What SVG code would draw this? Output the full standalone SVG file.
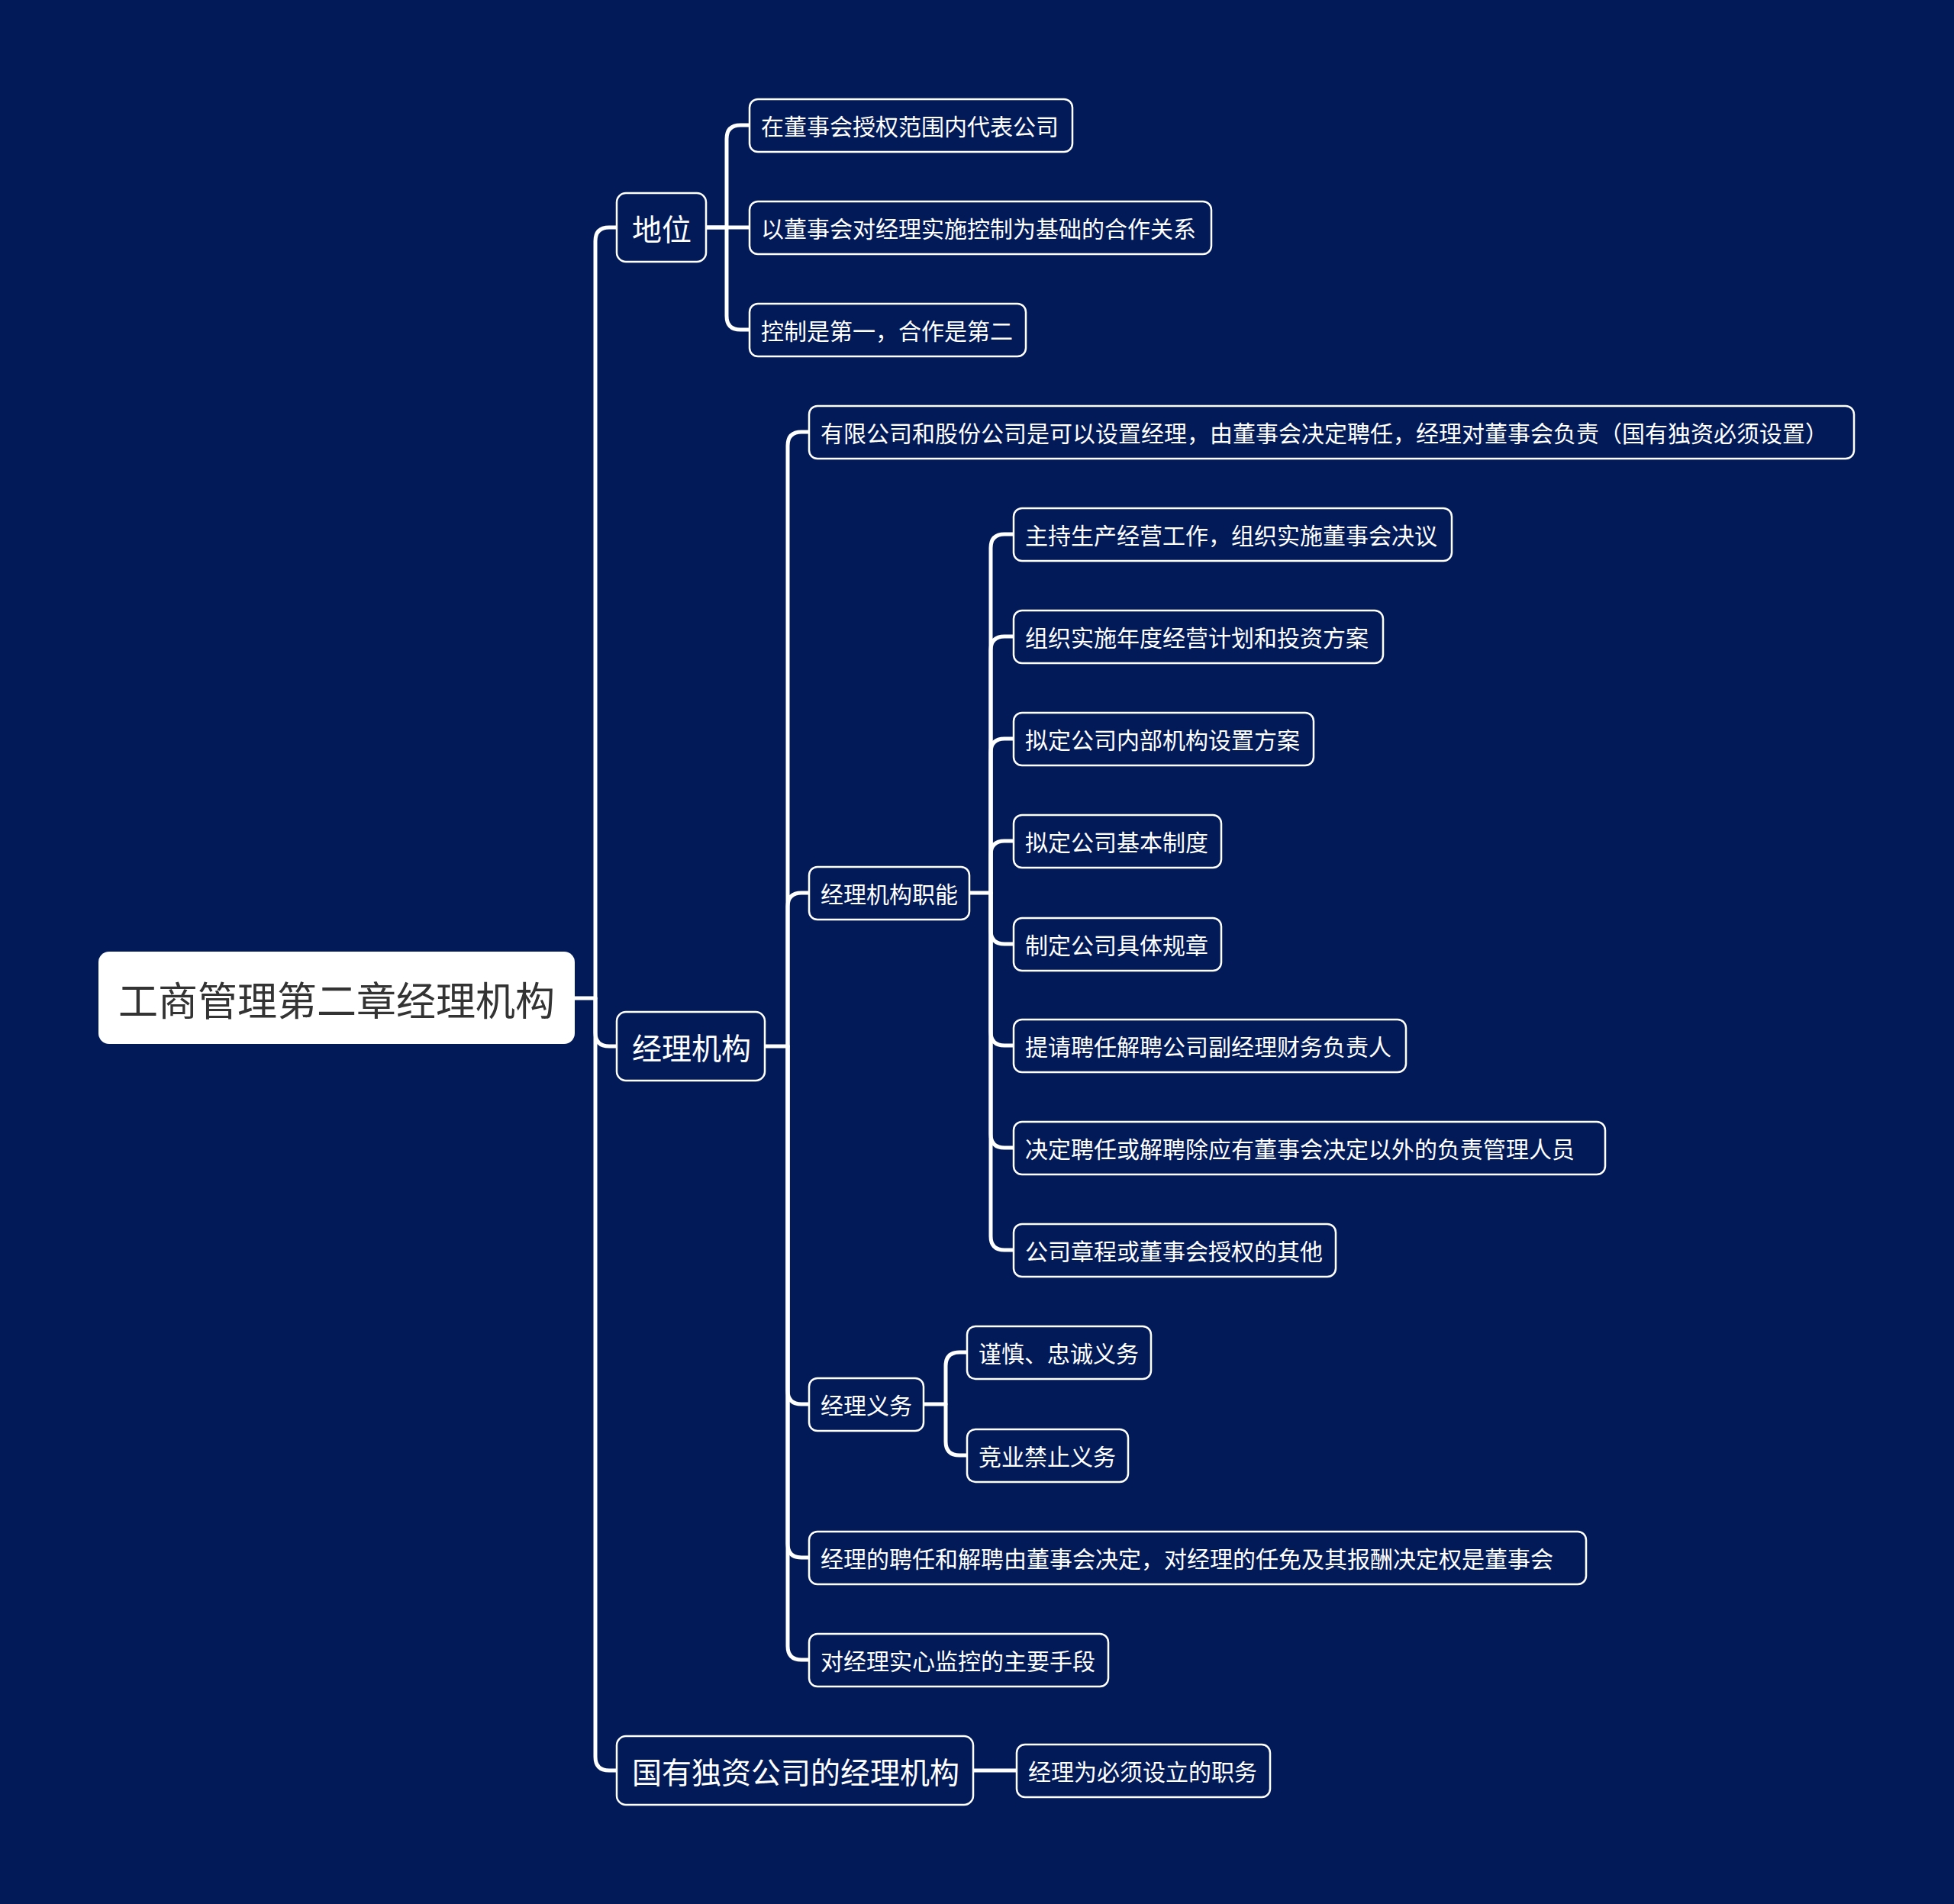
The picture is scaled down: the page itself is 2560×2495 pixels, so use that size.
<svg xmlns="http://www.w3.org/2000/svg" width="2560" height="2495" viewBox="0 0 2560 2495">
<style>
.bg{fill:#021b58}
.box{fill:#021b58;stroke:#ffffff;stroke-width:2.5}
.root{fill:#ffffff}
.t{font-family:"Noto Sans CJK SC","Noto Sans",sans-serif;fill:#ffffff;dominant-baseline:central}
.t0{font-size:52px;fill:#333333;text-anchor:middle}
.t1{font-size:39px}
.t2{font-size:30px}
.c{fill:none;stroke:#ffffff;stroke-width:5;stroke-linecap:round;stroke-linejoin:round}
</style>
<rect class="bg" x="0" y="0" width="2560" height="2495"/>
<g id="connectors">
<path class="c" d="M753,1308 H780 V316 Q780,298 798,298 H808"/>
<path class="c" d="M780,1308 V1353 Q780,1371 798,1371 H808"/>
<path class="c" d="M780,1308 V2302 Q780,2320 798,2320 H808"/>
<path class="c" d="M925,298 H952 V182 Q952,164 970,164 H982"/>
<path class="c" d="M925,298 H982"/>
<path class="c" d="M952,298 V414 Q952,432 970,432 H982"/>
<path class="c" d="M1002,1371 H1032 V584 Q1032,566 1050,566 H1060"/>
<path class="c" d="M1032,1371 V1188 Q1032,1170 1050,1170 H1060"/>
<path class="c" d="M1032,1371 V1822 Q1032,1840 1050,1840 H1060"/>
<path class="c" d="M1032,1371 V2023 Q1032,2041 1050,2041 H1060"/>
<path class="c" d="M1032,1371 V2157 Q1032,2175 1050,2175 H1060"/>
<path class="c" d="M1270,1170 H1298 V718 Q1298,700 1316,700 H1328"/>
<path class="c" d="M1298,1170 V852 Q1298,834 1316,834 H1328"/>
<path class="c" d="M1298,1170 V986 Q1298,968 1316,968 H1328"/>
<path class="c" d="M1298,1170 V1120 Q1298,1102 1316,1102 H1328"/>
<path class="c" d="M1298,1170 V1219 Q1298,1237 1316,1237 H1328"/>
<path class="c" d="M1298,1170 V1352 Q1298,1370 1316,1370 H1328"/>
<path class="c" d="M1298,1170 V1486 Q1298,1504 1316,1504 H1328"/>
<path class="c" d="M1298,1170 V1620 Q1298,1638 1316,1638 H1328"/>
<path class="c" d="M1209,1840 H1239 V1790 Q1239,1772 1257,1772 H1267"/>
<path class="c" d="M1239,1840 V1889 Q1239,1907 1257,1907 H1267"/>
<path class="c" d="M1275,2320 H1332"/>
</g>
<g id="root">
<rect class="root" x="129" y="1247" width="624" height="121" rx="14"/>
<text class="t t0" x="441" y="1308">工商管理第二章经理机构</text>
</g>
<g id="n-diwei">
<rect class="box" x="808" y="253" width="117" height="90" rx="12"/>
<text class="t t1" x="828" y="298">地位</text>
</g>
<g id="n-jljg">
<rect class="box" x="808" y="1326" width="194" height="90" rx="12"/>
<text class="t t1" x="828" y="1371">经理机构</text>
</g>
<g id="n-guoyou">
<rect class="box" x="808" y="2275" width="467" height="90" rx="12"/>
<text class="t t1" x="828" y="2320">国有独资公司的经理机构</text>
</g>
<g id="n-a1">
<rect class="box" x="982" y="130" width="423" height="69" rx="11"/>
<text class="t t2" x="997" y="164">在董事会授权范围内代表公司</text>
</g>
<g id="n-a2">
<rect class="box" x="982" y="264" width="605" height="69" rx="11"/>
<text class="t t2" x="997" y="298">以董事会对经理实施控制为基础的合作关系</text>
</g>
<g id="n-a3">
<rect class="box" x="982" y="398" width="362" height="69" rx="11"/>
<text class="t t2" x="997" y="432">控制是第一，合作是第二</text>
</g>
<g id="n-b1">
<rect class="box" x="1060" y="532" width="1369" height="69" rx="11"/>
<text class="t t2" x="1075" y="566">有限公司和股份公司是可以设置经理，由董事会决定聘任，经理对董事会负责（国有独资必须设置）</text>
</g>
<g id="n-b2">
<rect class="box" x="1060" y="1136" width="210" height="69" rx="11"/>
<text class="t t2" x="1075" y="1170">经理机构职能</text>
</g>
<g id="n-c1">
<rect class="box" x="1328" y="666" width="574" height="69" rx="11"/>
<text class="t t2" x="1343" y="700">主持生产经营工作，组织实施董事会决议</text>
</g>
<g id="n-c2">
<rect class="box" x="1328" y="800" width="484" height="69" rx="11"/>
<text class="t t2" x="1343" y="834">组织实施年度经营计划和投资方案</text>
</g>
<g id="n-c3">
<rect class="box" x="1328" y="934" width="393" height="69" rx="11"/>
<text class="t t2" x="1343" y="968">拟定公司内部机构设置方案</text>
</g>
<g id="n-c4">
<rect class="box" x="1328" y="1068" width="272" height="69" rx="11"/>
<text class="t t2" x="1343" y="1102">拟定公司基本制度</text>
</g>
<g id="n-c5">
<rect class="box" x="1328" y="1203" width="272" height="69" rx="11"/>
<text class="t t2" x="1343" y="1237">制定公司具体规章</text>
</g>
<g id="n-c6">
<rect class="box" x="1328" y="1336" width="514" height="69" rx="11"/>
<text class="t t2" x="1343" y="1370">提请聘任解聘公司副经理财务负责人</text>
</g>
<g id="n-c7">
<rect class="box" x="1328" y="1470" width="775" height="69" rx="11"/>
<text class="t t2" x="1343" y="1504">决定聘任或解聘除应有董事会决定以外的负责管理人员</text>
</g>
<g id="n-c8">
<rect class="box" x="1328" y="1604" width="422" height="69" rx="11"/>
<text class="t t2" x="1343" y="1638">公司章程或董事会授权的其他</text>
</g>
<g id="n-b3">
<rect class="box" x="1060" y="1806" width="150" height="69" rx="11"/>
<text class="t t2" x="1075" y="1840">经理义务</text>
</g>
<g id="n-d1">
<rect class="box" x="1267" y="1738" width="241" height="69" rx="11"/>
<text class="t t2" x="1282" y="1772">谨慎、忠诚义务</text>
</g>
<g id="n-d2">
<rect class="box" x="1267" y="1873" width="211" height="69" rx="11"/>
<text class="t t2" x="1282" y="1907">竞业禁止义务</text>
</g>
<g id="n-b4">
<rect class="box" x="1060" y="2007" width="1018" height="69" rx="11"/>
<text class="t t2" x="1075" y="2041">经理的聘任和解聘由董事会决定，对经理的任免及其报酬决定权是董事会</text>
</g>
<g id="n-b5">
<rect class="box" x="1060" y="2141" width="392" height="69" rx="11"/>
<text class="t t2" x="1075" y="2175">对经理实心监控的主要手段</text>
</g>
<g id="n-e1">
<rect class="box" x="1332" y="2286" width="332" height="69" rx="11"/>
<text class="t t2" x="1347" y="2320">经理为必须设立的职务</text>
</g>
</svg>
